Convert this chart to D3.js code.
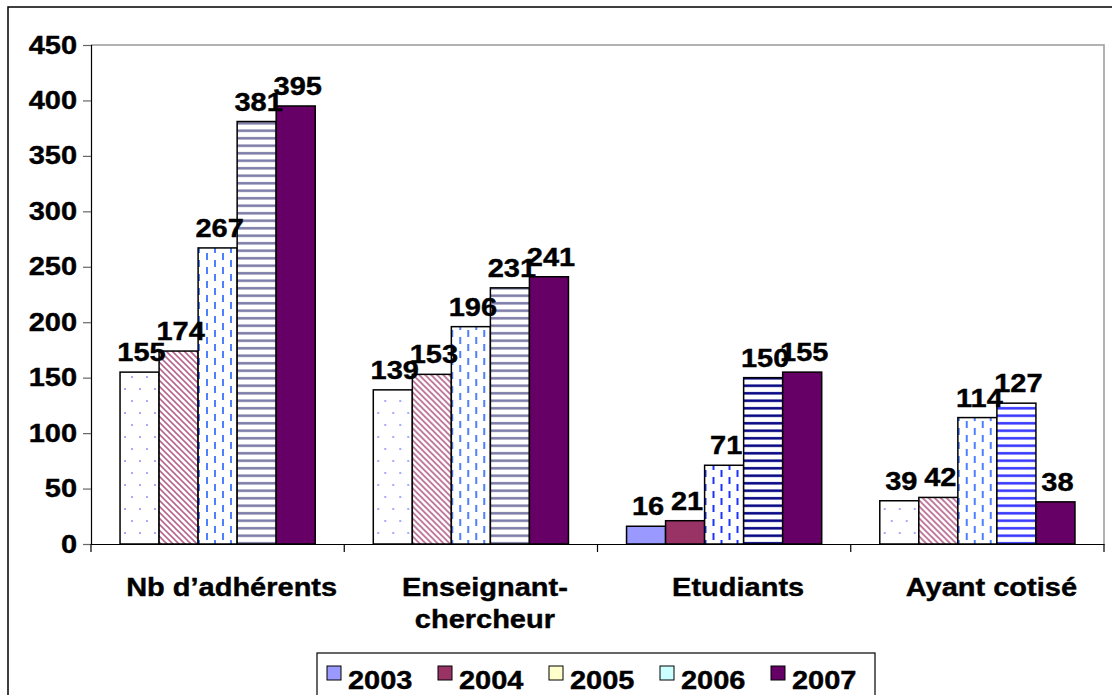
<!DOCTYPE html>
<html>
<head>
<meta charset="utf-8">
<script src="https://cdn.jsdelivr.net/npm/d3@7"></script>
<style>
  html, body { margin: 0; padding: 0; background: #fff; }
  text { font-family: "Liberation Sans", Arial, sans-serif; font-weight: bold; fill: #000;
         stroke: #000; stroke-width: 0.4px; }
</style>
</head>
<body>
<div id="vis"></div>
<script>
// Adhérents par catégorie, 2003 - 2007

var categories = ['Nb d\u2019adhérents', 'Enseignant-\nchercheur', 'Etudiants', 'Ayant cotisé'];
var years = ['2003', '2004', '2005', '2006', '2007'];
var values = {
  '2003': [155, 139, 16, 39],
  '2004': [174, 153, 21, 42],
  '2005': [267, 196, 71, 114],
  '2006': [381, 231, 150, 127],
  '2007': [395, 241, 155, 38]
};
var yTicks = [0, 50, 100, 150, 200, 250, 300, 350, 400, 450];

// legend colours and the hatch used in the plot (the scan mixes them per group)
var legendColors = ['#9999ff', '#993366', '#ffffcc', '#ccffff', '#660066'];
var stripeColors = ['#7a7aa6', '#7a7aa6', '#000080', '#3333ff'];
var dashColors   = ['#4d7fff', '#4d7fff', '#1a33ff', '#4d7fff'];

var W = 1112, H = 695;
var stretch = 1.16; // text in the picture is drawn wider than normal
var fontSize = 25;

var svg = d3.select('#vis').append('svg')
  .attr('width', W).attr('height', H);

var defs = svg.append('defs');

function makePatterns(i) {
  // dots
  var p = defs.append('pattern').attr('id', 'dots' + i)
    .attr('patternUnits', 'userSpaceOnUse').attr('width', 15).attr('height', 24);
  p.append('rect').attr('width', 15).attr('height', 24).attr('fill', '#fff');
  p.append('rect').attr('x', 3).attr('y', 4).attr('width', 2).attr('height', 2).attr('fill', '#a9a9ff');
  p.append('rect').attr('x', 10).attr('y', 16).attr('width', 2).attr('height', 2).attr('fill', '#a9a9ff');

  // diagonal
  p = defs.append('pattern').attr('id', 'diag' + i)
    .attr('patternUnits', 'userSpaceOnUse').attr('width', 6).attr('height', 6);
  p.append('rect').attr('width', 6).attr('height', 6).attr('fill', '#fff');
  p.append('path').attr('d', 'M-1,-1 L7,7 M-4,2 L2,8 M4,-2 L8,2')
    .attr('stroke', '#b8668f').attr('stroke-width', 1.6);

  // dashed verticals
  p = defs.append('pattern').attr('id', 'dash' + i)
    .attr('patternUnits', 'userSpaceOnUse').attr('width', 16).attr('height', 14);
  p.append('rect').attr('width', 16).attr('height', 14).attr('fill', '#fff');
  p.append('rect').attr('x', 3).attr('y', 1).attr('width', 2).attr('height', 7).attr('fill', dashColors[i]);
  p.append('rect').attr('x', 11).attr('y', 8).attr('width', 2).attr('height', 7).attr('fill', dashColors[i]);
  p.append('rect').attr('x', 11).attr('y', -6).attr('width', 2).attr('height', 7).attr('fill', dashColors[i]);

  // horizontal stripes
  p = defs.append('pattern').attr('id', 'horz' + i)
    .attr('patternUnits', 'userSpaceOnUse').attr('width', 8).attr('height', 7.5);
  p.append('rect').attr('width', 8).attr('height', 7.5).attr('fill', '#fff');
  p.append('rect').attr('y', 2).attr('width', 8).attr('height', 2.5).attr('fill', stripeColors[i]);
}
categories.forEach(function (c, i) { makePatterns(i); });

function barFill(year, ci) {
  var k = years.indexOf(year);
  if (ci === 2 && k < 2) return legendColors[k]; // Etudiants: plain colours
  if (k === 0) return 'url(#dots' + ci + ')';
  if (k === 1) return 'url(#diag' + ci + ')';
  if (k === 2) return 'url(#dash' + ci + ')';
  if (k === 3) return 'url(#horz' + ci + ')';
  return legendColors[4];
}

// text drawn with a horizontal stretch
function label(g, x, y, str, anchor) {
  return g.append('text')
    .attr('transform', 'translate(' + x + ',' + y + ') scale(' + stretch + ',1)')
    .attr('text-anchor', anchor || 'middle')
    .attr('font-size', fontSize)
    .text(str);
}

// outer frame
svg.append('rect').attr('x', 8).attr('y', 7).attr('width', W).attr('height', H)
  .attr('fill', 'none').attr('stroke', '#000').attr('stroke-width', 1.5);

var x0 = d3.scaleBand().domain(categories).range([91, 1104]).paddingInner(0).paddingOuter(0);
var x1 = d3.scaleBand().domain(years).range([0, x0.bandwidth()]).paddingInner(0).paddingOuter(0.744);
var y = d3.scaleLinear().domain([0, 450]).range([544, 45]);

// plot area border (top, right)
svg.append('path')
  .attr('d', 'M' + x0.range()[0] + ',' + y(450) + 'H' + x0.range()[1] + 'V' + y(0))
  .attr('fill', 'none').attr('stroke', '#999').attr('stroke-width', 1.5);

// bars
var groups = svg.selectAll('g.cat').data(categories).join('g')
  .attr('class', 'cat')
  .attr('transform', function (d) { return 'translate(' + x0(d) + ',0)'; });

groups.each(function (c, ci) {
  var g = d3.select(this);
  var rows = years.map(function (yr) { return { year: yr, v: values[yr][ci] }; });
  g.selectAll('rect').data(rows).join('rect')
    .attr('x', function (d) { return x1(d.year); })
    .attr('y', function (d) { return y(d.v); })
    .attr('width', x1.bandwidth())
    .attr('height', function (d) { return y(0) - y(d.v); })
    .attr('fill', function (d) { return barFill(d.year, ci); })
    .attr('stroke', '#000').attr('stroke-width', 1.5);
  rows.forEach(function (d) {
    label(g, x1(d.year) + x1.bandwidth() / 2 + 2, y(d.v) - 11, String(d.v));
  });
});

// y axis
var yAxis = svg.append('g').attr('transform', 'translate(91,0)')
  .call(d3.axisLeft(y).tickValues(yTicks).tickSize(8).tickPadding(4));
yAxis.select('.domain').attr('stroke', '#000').attr('stroke-width', 1.2);
yAxis.selectAll('.tick line').attr('stroke', '#666').attr('stroke-width', 1.2);
yAxis.selectAll('.tick text')
  .attr('font-size', fontSize).attr('font-family', null)
  .attr('transform', 'scale(' + stretch + ',1)');

// x axis
var xAxis = svg.append('g').attr('transform', 'translate(0,' + y(0) + ')')
  .call(d3.axisBottom(x0).tickSize(0).tickFormat(''));
xAxis.select('.domain').attr('stroke', '#000').attr('stroke-width', 1.2);
var bounds = categories.map(function (c) { return x0(c); }).concat([x0.range()[1]]);
xAxis.selectAll('line.bound').data(bounds).join('line')
  .attr('class', 'bound')
  .attr('x1', function (d) { return d; }).attr('x2', function (d) { return d; })
  .attr('y1', 0).attr('y2', 8)
  .attr('stroke', '#000').attr('stroke-width', 1.2);

// category labels (sit a little right of the band centre in the picture)
categories.forEach(function (c) {
  var cx = x0(c) + x0.bandwidth() / 2 + 14;
  c.split('\n').forEach(function (line, li) {
    label(svg, cx, 596 + li * 32, line);
  });
});

// legend
var leg = svg.append('g');
leg.append('rect').attr('x', 317).attr('y', 653).attr('width', 558).attr('height', 60)
  .attr('fill', '#fff').attr('stroke', '#000').attr('stroke-width', 1.2);
years.forEach(function (yr, i) {
  var lx = 327 + i * 111;
  leg.append('rect').attr('x', lx).attr('y', 666).attr('width', 14).attr('height', 14)
    .attr('fill', legendColors[i]).attr('stroke', '#000').attr('stroke-width', 1);
  label(leg, lx + 21, 689, yr, 'start');
});
</script>
</body>
</html>
